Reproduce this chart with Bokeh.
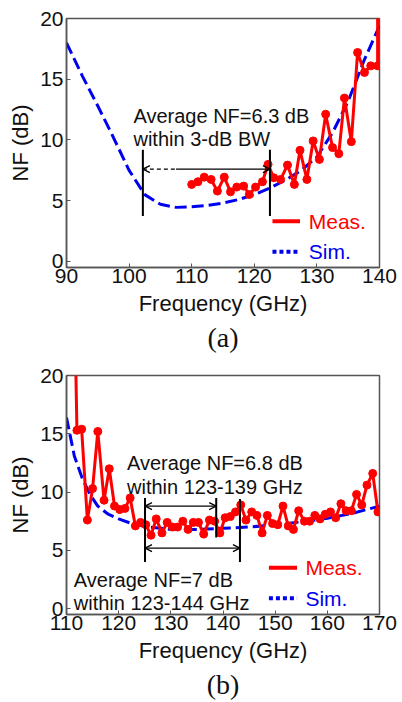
from bokeh.plotting import figure
from bokeh.layouts import column
from bokeh.models import Range1d, FixedTicker, Label, Arrow, OpenHead, Title
from bokeh.embed import file_html
from bokeh.resources import INLINE

# ---------------- data: panel (a) ----------------
meas_a_f = [110.0, 111.0, 112.0, 113.1, 114.1, 115.2, 116.2, 117.2, 118.3, 119.2,
            120.2, 121.3, 122.2, 123.1, 124.2, 125.3, 126.4, 127.3, 128.4, 129.4,
            130.4, 131.4, 132.5, 133.5, 134.4, 135.5, 136.5, 137.6, 138.6, 139.7, 139.7]
meas_a_nf = [6.34, 6.56, 6.94, 6.75, 5.79, 6.94, 5.73, 6.12, 6.20, 5.51,
             6.12, 6.56, 7.99, 6.89, 6.75, 7.93, 6.34, 9.15, 6.75, 9.92,
             8.40, 12.12, 9.37, 8.87, 13.45, 9.86, 17.20, 15.56, 16.10, 16.10, 30.0]
sim_a_f = [90, 92.5, 95, 97.5, 100, 102.5, 105, 107.5, 110, 112.5, 115,
           117.5, 120, 122.5, 125, 127.5, 130, 132.5, 135, 137.5, 140]
sim_a_nf = [18.0, 15.3, 12.8, 10.2, 7.5, 5.5, 4.7, 4.45, 4.5, 4.6, 4.8,
            5.1, 5.5, 6.05, 6.7, 7.5, 8.6, 10.6, 13.2, 16.5, 19.4]
bw_a = [102.2, 122.5]          # 3-dB bandwidth edges (GHz)
bw_a_dash_end = 107.5
xticks_a = [90, 100, 110, 120, 130, 140]
yticks = [0, 5, 10, 15, 20]

# ---------------- data: panel (b) ----------------
meas_b_f = [111.0, 112.0, 112.9, 114.0, 115.0, 116.0, 117.2, 118.2, 119.2, 120.2,
            121.2, 122.2, 123.2, 124.2, 125.2, 126.2, 127.2, 128.3, 129.3, 130.3,
            131.3, 132.3, 133.3, 134.3, 135.3, 136.3, 137.4, 138.4, 139.4, 140.4,
            141.4, 142.4, 143.4, 144.4, 145.5, 146.5, 147.5, 148.5, 149.5, 150.5,
            151.5, 152.5, 153.5, 154.5, 155.6, 156.6, 157.6, 158.6, 159.6, 160.6,
            161.6, 162.6, 163.6, 164.6, 165.6, 166.6, 167.6, 168.7, 169.7]
meas_b_nf = [40.0, 15.3, 15.4, 7.6, 10.3, 15.2, 9.3, 12.0, 8.8, 8.5,
             8.6, 9.5, 7.1, 7.4, 7.2, 6.3, 7.7, 6.5, 7.4, 7.0,
             7.0, 7.5, 6.8, 7.4, 7.4, 6.4, 7.6, 7.5, 6.5, 7.8,
             7.9, 8.3, 8.9, 7.6, 8.3, 8.0, 6.5, 8.0, 7.3, 7.2,
             8.8, 7.1, 6.8, 8.4, 7.5, 7.5, 8.0, 7.7, 8.1, 8.3,
             7.8, 9.0, 8.4, 8.4, 9.8, 8.9, 10.6, 11.6, 8.3]
sim_b_f = [110, 111.5, 113, 114.5, 116, 118, 120, 122.5, 125, 130, 135, 140,
           145, 150, 155, 160, 165, 170]
sim_b_nf = [16.4, 13.1, 11.2, 9.8, 8.8, 8.1, 7.7, 7.3, 7.05, 6.8, 6.8, 6.9,
            7.0, 7.2, 7.45, 7.75, 8.2, 8.8]
band_b = [125.05, 138.7, 143.25]
xticks_b = [110, 120, 130, 140, 150, 160, 170]

SANS = "Liberation Sans"
SERIF = "Liberation Serif"
RED = "#ff0000"
BLUE = "#0000f0"
FRAME = "#555555"


def base_fig(width, height, xr, xt, mb):
    p = figure(width=width, height=height, x_range=Range1d(*xr), y_range=Range1d(-0.5, 20),
               output_backend="svg", toolbar_location=None,
               min_border_left=mb[0], min_border_right=mb[1],
               min_border_top=mb[2], min_border_bottom=mb[3])
    p.xgrid.visible = False
    p.ygrid.visible = False
    p.outline_line_color = FRAME
    p.outline_line_width = 1.5
    p.background_fill_color = "white"
    p.border_fill_color = "white"
    p.xaxis.ticker = FixedTicker(ticks=xt)
    p.yaxis.ticker = FixedTicker(ticks=yticks)
    for ax in (p.xaxis[0], p.yaxis[0]):
        ax.axis_line_color = FRAME
        ax.axis_line_width = 1.5
        ax.major_tick_line_color = FRAME
        ax.major_tick_in = 4
        ax.major_tick_out = 0
        ax.minor_tick_line_color = None
        ax.major_label_text_font = SANS
        ax.major_label_text_font_size = "21px"
        ax.major_label_text_color = "#111111"
        ax.axis_label_text_font = SANS
        ax.axis_label_text_font_size = "22px"
        ax.axis_label_text_font_style = "normal"
        ax.axis_label_text_color = "#111111"
    p.xaxis.axis_label = "Frequency (GHz)"
    p.yaxis.axis_label = "NF (dB)"
    p.xaxis.major_label_standoff = 1
    p.yaxis.major_label_standoff = 3
    p.xaxis.axis_label_standoff = 5
    p.yaxis.axis_label_standoff = 4
    return p


def label(p, x, y, text, size="20px", color="#111111", baseline="alphabetic"):
    p.add_layout(Label(x=x, y=y, text=text, text_font=SANS, text_font_size=size,
                       text_color=color, text_baseline=baseline, text_align="left"))


# ---------------- panel (a) ----------------
pa = base_fig(400, 358, (90, 140), xticks_a, (66, 16, 18, 91))
pa.line(sim_a_f, sim_a_nf, line_color=BLUE, line_width=3, line_dash="12 5")
pa.line(meas_a_f, meas_a_nf, line_color=RED, line_width=3)
pa.scatter(meas_a_f, meas_a_nf, size=8, fill_color=RED, line_color=RED)

pa.segment(x0=bw_a, y0=[3.75, 3.75], x1=bw_a, y1=[9.2, 9.2], line_color="black", line_width=2)
pa.add_layout(Arrow(start=OpenHead(size=7, line_width=1.3), end=None,
                    x_start=bw_a[0], y_start=7.6, x_end=bw_a_dash_end, y_end=7.6,
                    line_width=1.3, line_dash="4 3", line_color="black"))
pa.add_layout(Arrow(end=OpenHead(size=7, line_width=1.3), start=None,
                    x_start=bw_a_dash_end, y_start=7.6, x_end=bw_a[1], y_end=7.6,
                    line_width=1.3, line_color="black"))
label(pa, 100.7, 11.95, "Average NF=6.3 dB")
label(pa, 100.7, 10.05, "within 3-dB BW")

pa.segment(x0=[122.9], y0=[3.3], x1=[127.3], y1=[3.3], line_color=RED, line_width=4)
pa.segment(x0=[122.9], y0=[0.8], x1=[127.3], y1=[0.8], line_color=BLUE, line_width=4,
           line_dash="4 3")
label(pa, 128.7, 3.3, "Meas.", size="21px", color=RED, baseline="middle")
label(pa, 128.7, 0.8, "Sim.", size="21px", color=BLUE, baseline="middle")
pa.add_layout(Title(text="(a)", align="center", text_font=SERIF, text_font_size="28px",
                    text_font_style="normal", text_color="#111111", offset=-6, standoff=2), "below")

# ---------------- panel (b) ----------------
pb = base_fig(400, 342, (110, 170), xticks_b, (65, 21, 17, 83))
pb.line(sim_b_f, sim_b_nf, line_color=BLUE, line_width=3, line_dash="12 5")
pb.line(meas_b_f, meas_b_nf, line_color=RED, line_width=3)
pb.scatter(meas_b_f, meas_b_nf, size=8, fill_color=RED, line_color=RED)

pb.segment(x0=band_b, y0=[4.0, 6.1, 4.0], x1=band_b, y1=[9.5, 9.5, 9.4],
           line_color="black", line_width=2)
pb.add_layout(Arrow(start=OpenHead(size=7, line_width=1.3), end=OpenHead(size=7, line_width=1.3),
                    x_start=band_b[0], y_start=8.8, x_end=band_b[1], y_end=8.8,
                    line_width=1.3, line_color="black"))
pb.add_layout(Arrow(start=OpenHead(size=7, line_width=1.3), end=OpenHead(size=7, line_width=1.3),
                    x_start=band_b[0], y_start=5.2, x_end=band_b[2], y_end=5.2,
                    line_width=1.3, line_color="black"))
label(pb, 121.6, 12.5, "Average NF=6.8 dB")
label(pb, 121.6, 10.4, "within 123-139 GHz")
label(pb, 111.4, 2.45, "Average NF=7 dB")
label(pb, 111.4, 0.45, "within 123-144 GHz")

pb.segment(x0=[148.8], y0=[3.5], x1=[154.2], y1=[3.5], line_color=RED, line_width=4)
pb.segment(x0=[148.8], y0=[0.9], x1=[154.2], y1=[0.9], line_color=BLUE, line_width=4,
           line_dash="4 3")
label(pb, 155.8, 3.5, "Meas.", size="21px", color=RED, baseline="middle")
label(pb, 155.8, 0.9, "Sim.", size="21px", color=BLUE, baseline="middle")
pb.add_layout(Title(text="(b)", align="center", text_font=SERIF, text_font_size="28px",
                    text_font_style="normal", text_color="#111111", offset=-6, standoff=2), "below")

layout = column(pa, pb, spacing=0)
open("out.html", "w").write(file_html(layout, INLINE))
